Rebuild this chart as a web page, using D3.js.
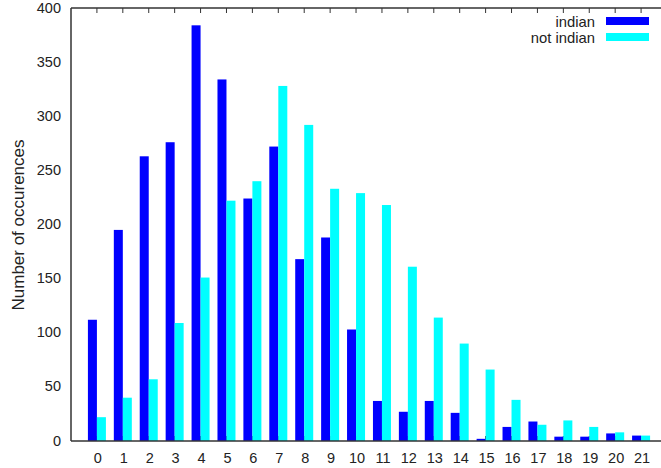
<!DOCTYPE html>
<html><head><meta charset="utf-8">
<script src="https://cdn.jsdelivr.net/npm/d3@7"></script>
<style>body{margin:0;background:#fff}svg{display:block}text{font-family:"Liberation Sans",Arial,sans-serif;fill:#222}</style>
</head><body><svg id="c" width="661" height="468"></svg>
<script>
const categories = d3.range(0,22);
const indian =    [112,195,263,276,384,334,224,272,168,188,103,37,27,37,26,2,13,18,4,4,7,5];
const notIndian = [22,40,57,109,151,222,240,328,292,233,229,218,161,114,90,66,38,15,19,13,8,5];
const yTicks = [0,50,100,150,200,250,300,350,400];
const seriesNames = ["indian","not indian"];
const colors = ["#0000ff","#00ffff"];

const svg = d3.select("#c");
const L=71, R=667, T=8, B=441;
const x = d3.scaleLinear().domain([-1,22]).range([L,R]);
const y = d3.scaleLinear().domain([0,400]).range([B,T]);
const bw = 9;

// inward ticks on bottom and top
const g = svg.append("g");
categories.forEach(c=>{
  g.append("line").attr("x1",x(c)).attr("x2",x(c)).attr("y1",B).attr("y2",B-5).attr("stroke","#333").attr("stroke-width",1);
  g.append("line").attr("x1",x(c)).attr("x2",x(c)).attr("y1",T).attr("y2",T+5).attr("stroke","#333").attr("stroke-width",1);
});

const data = [indian, notIndian];
data.forEach((vals,si)=>{
  svg.append("g").selectAll("rect").data(vals).join("rect")
    .attr("x",(d,i)=> si===0 ? x(categories[i])-bw : x(categories[i]))
    .attr("y",d=>y(d))
    .attr("width",bw)
    .attr("height",d=>B-y(d))
    .attr("fill",colors[si]);
});

// axes frame
svg.append("line").attr("x1",L).attr("x2",L).attr("y1",T).attr("y2",B).attr("stroke","#333").attr("stroke-width",1.5);
svg.append("line").attr("x1",L).attr("x2",661).attr("y1",B).attr("y2",B).attr("stroke","#333").attr("stroke-width",1.5);
svg.append("line").attr("x1",L).attr("x2",661).attr("y1",T).attr("y2",T).attr("stroke","#333").attr("stroke-width",1.5);

// y tick labels
svg.append("g").selectAll("text").data(yTicks).join("text")
  .attr("x",61).attr("y",d=>y(d)+4.5).attr("text-anchor","end").attr("font-size",14.5).text(d=>d);
// x tick labels
svg.append("g").selectAll("text").data(categories).join("text")
  .attr("x",d=>x(d)+1).attr("y",462.5).attr("text-anchor","middle").attr("font-size",14.5).text(d=>d);

// y label
svg.append("text").attr("transform","translate(23.5,225) rotate(-90)").attr("text-anchor","middle").attr("font-size",17).text("Number of occurences");

// legend
seriesNames.forEach((n,i)=>{
  const cy = 21 + i*16;
  svg.append("text").attr("x",595).attr("y",cy+5.5).attr("text-anchor","end").attr("font-size",14.8).text(n);
  svg.append("rect").attr("x",606).attr("y",cy-4).attr("width",43).attr("height",8).attr("fill",colors[i]);
});
</script></body></html>
